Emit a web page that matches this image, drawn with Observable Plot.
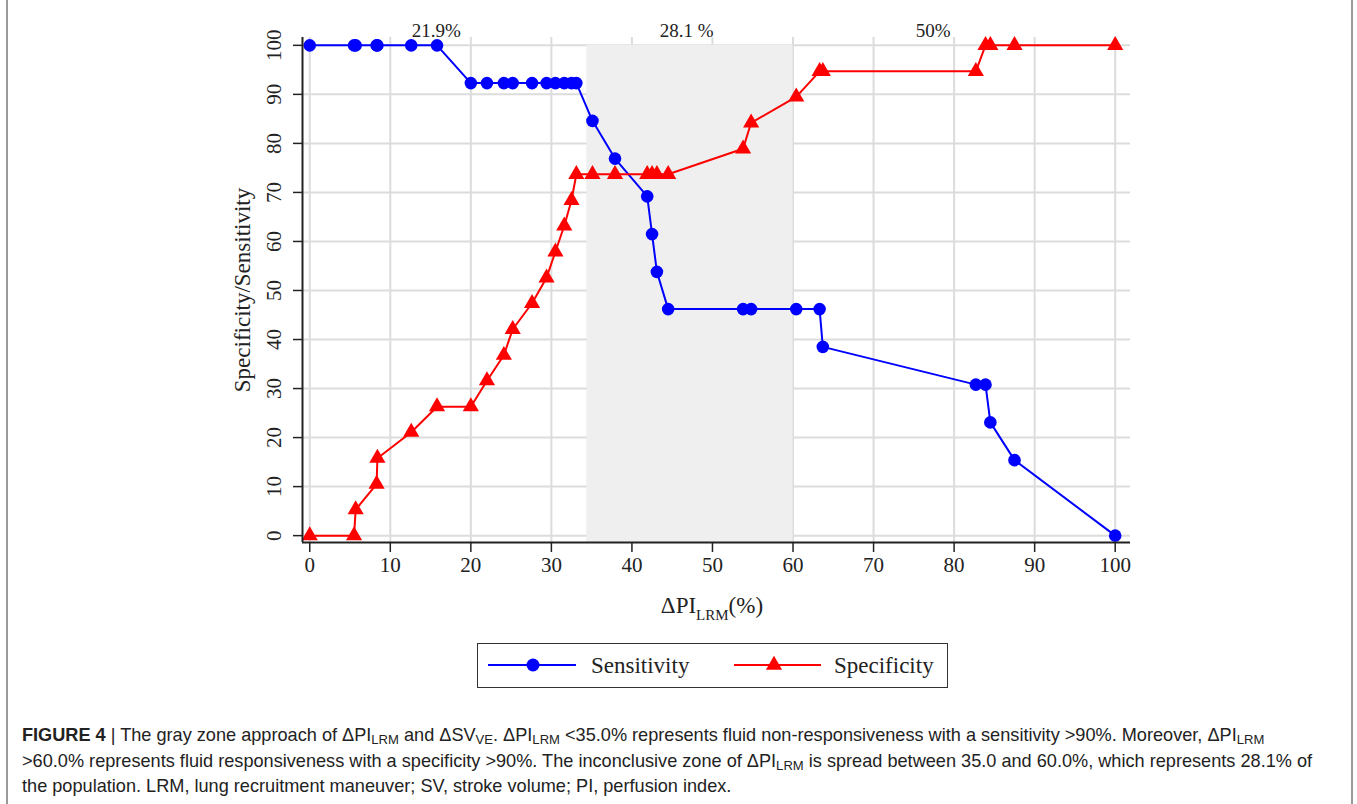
<!DOCTYPE html>
<html><head><meta charset="utf-8">
<script src="https://cdn.jsdelivr.net/npm/d3@7"></script>
<script src="https://cdn.jsdelivr.net/npm/@observablehq/plot@0.6"></script>
<style>
body{margin:0;background:#fff;}
#wrap{position:relative;width:1357px;height:804px;overflow:hidden;background:#fff;}
#frame{position:absolute;left:6px;top:-4px;width:1343px;height:900px;border-left:2px solid #9a9a9a;border-right:2px solid #9a9a9a;pointer-events:none;}
#chart{position:absolute;left:0;top:0;}
#legend{position:absolute;left:477px;top:643px;width:471px;height:45px;border:1.5px solid #333;box-sizing:border-box;background:#fff;}
#legend svg{display:block;font-family:"Liberation Serif",serif;}
#caption{position:absolute;left:22px;top:722px;font-family:"Liberation Sans Narrow","Liberation Sans",sans-serif;font-size:19px;line-height:25.5px;color:#222;white-space:nowrap;transform:scaleX(0.955);transform-origin:0 0;}
#caption b{font-weight:bold;}
.sb{font-size:0.72em;vertical-align:-0.25em;line-height:0;}
</style></head>
<body>
<div id="wrap">
  <div id="chart"></div>
  <div id="legend"></div>
  <div id="caption">
    <b>FIGURE 4</b> | The gray zone approach of ΔPI<span class="sb">LRM</span> and ΔSV<span class="sb">VE</span>. ΔPI<span class="sb">LRM</span> &lt;35.0% represents fluid non-responsiveness with a sensitivity &gt;90%. Moreover, ΔPI<span class="sb">LRM</span><br>
    &gt;60.0% represents fluid responsiveness with a specificity &gt;90%. The inconclusive zone of ΔPI<span class="sb">LRM</span> is spread between 35.0 and 60.0%, which represents 28.1% of<br>
    the population. LRM, lung recruitment maneuver; SV, stroke volume; PI, perfusion index.
  </div>
  <div id="frame"></div>
</div>
<script>
// ---- data ----
const cutoffs = [0, 5.5, 5.7, 8.3, 8.4, 12.6, 15.8, 20.0, 22.0, 24.1, 25.2, 27.6, 29.4, 30.5, 31.6, 32.5, 33.1, 35.1, 37.9, 41.9, 42.5, 43.1, 44.5, 53.8, 54.8, 60.4, 63.3, 63.7, 82.7, 83.9, 84.5, 87.5, 100];
const sensitivity = [100, 100, 100, 100, 100, 100, 100, 92.3, 92.3, 92.3, 92.3, 92.3, 92.3, 92.3, 92.3, 92.3, 92.3, 84.6, 76.9, 69.2, 61.5, 53.8, 46.2, 46.2, 46.2, 46.2, 46.2, 38.5, 30.8, 30.8, 23.1, 15.4, 0];
const specificity = [0, 0, 5.3, 10.5, 15.8, 21.1, 26.3, 26.3, 31.6, 36.8, 42.1, 47.4, 52.6, 57.9, 63.2, 68.4, 73.7, 73.7, 73.7, 73.7, 73.7, 73.7, 73.7, 78.9, 84.2, 89.5, 94.7, 94.7, 94.7, 100, 100, 100, 100];
const grayZone = [34.4, 60];
const zoneLabels = ["21.9%", "28.1 %", "50%"];
const zoneLabelX = [15.7, 46.8, 77.4];
const xTicks = [0, 10, 20, 30, 40, 50, 60, 70, 80, 90, 100];
const yTicks = [0, 10, 20, 30, 40, 50, 60, 70, 80, 90, 100];
const seriesNames = ["Sensitivity", "Specificity"];
const seriesColors = ["#0000ff", "#ff0000"];

// ---- table ----
const rows = cutoffs.map((x, i) => ({x, sens: sensitivity[i], spec: specificity[i]}));
const labelsData = zoneLabels.map((t, i) => ({t, x: zoneLabelX[i]}));

const W = 1357, H = 640;
const xDomain = [-0.9, 101.9], yDomain = [-1.4, 101.6];
const plot = Plot.plot({
  width: W, height: H,
  marginLeft: 302, marginRight: 227, marginTop: 37, marginBottom: H - 542,
  x: {domain: xDomain},
  y: {domain: yDomain},
  style: {fontFamily: "Liberation Serif, serif", fontSize: "21px", color: "#222", background: "transparent", overflow: "visible"},
  marks: [
    Plot.gridX(xTicks, {stroke: "#dcdcdc", strokeOpacity: 1, strokeWidth: 2}),
    Plot.gridY(yTicks, {stroke: "#dcdcdc", strokeOpacity: 1, strokeWidth: 2}),
    Plot.rect([grayZone], {x1: d => d[0], x2: d => d[1], y1: yDomain[0], y2: 100, fill: "#efefef"}),
    Plot.line(rows, {x: "x", y: "sens", stroke: seriesColors[0], strokeWidth: 2}),
    Plot.line(rows, {x: "x", y: "spec", stroke: seriesColors[1], strokeWidth: 2}),
    Plot.dot(rows, {x: "x", y: "sens", r: 6.3, fill: seriesColors[0], symbol: "circle"}),
    Plot.dot(rows, {x: "x", y: "spec", r: 6, fill: seriesColors[1], symbol: "triangle"}),
    Plot.ruleX([xDomain[0]], {stroke: "#222", strokeWidth: 2}),
    Plot.ruleY([yDomain[0]], {stroke: "#222", strokeWidth: 2}),
    Plot.axisX(xTicks, {tickSize: 10, tickPadding: 5, fontSize: 21, label: null, strokeWidth: 1.5}),
    Plot.axisY(yTicks, {tickSize: 9, tickFormat: () => "", label: null, strokeWidth: 1.5}),
    Plot.text(yTicks, {x: () => xDomain[0], y: d => d, text: d => String(d), rotate: -90, dx: -28, fontSize: 21, textAnchor: "middle", lineAnchor: "middle"}),
    Plot.text(["Specificity/Sensitivity"], {frameAnchor: "left", rotate: -90, dx: -60, fontSize: 23, textAnchor: "middle", lineAnchor: "middle"}),
    Plot.text(labelsData, {x: "x", y: () => 102.9, text: "t", fontSize: 19, lineAnchor: "middle"})
  ]
});
document.getElementById("chart").appendChild(plot);

// x-axis title with subscript
const sx = plot.scale("x");
const svg = d3.select(plot);
const title = svg.append("text")
  .attr("x", sx.apply(50))
  .attr("y", 542 + 71)
  .attr("text-anchor", "middle")
  .attr("font-family", "Liberation Serif, serif")
  .attr("font-size", 23)
  .attr("fill", "#222");
title.append("tspan").text("ΔPI");
title.append("tspan").attr("font-size", 15).attr("dy", 7).text("LRM");
title.append("tspan").attr("dy", -7).text("(%)");

// legend
const lg = d3.select("#legend").append("svg").attr("width", 468).attr("height", 42);
const items = [
  {name: seriesNames[0], color: seriesColors[0], sym: d3.symbolCircle, x0: 10, x1: 98, mx: 55, tx: 113, size: Math.PI * 6.5 * 6.5},
  {name: seriesNames[1], color: seriesColors[1], sym: d3.symbolTriangle, x0: 256, x1: 343, mx: 296, tx: 356, size: Math.PI * 6 * 6}
];
items.forEach(it => {
  lg.append("line").attr("x1", it.x0).attr("x2", it.x1).attr("y1", 21).attr("y2", 21).attr("stroke", it.color).attr("stroke-width", 2);
  lg.append("path").attr("d", d3.symbol(it.sym, it.size)()).attr("transform", `translate(${it.mx},21)`).attr("fill", it.color);
  lg.append("text").attr("x", it.tx).attr("y", 29).attr("font-size", 23).attr("fill", "#222").text(it.name);
});
</script>
</body></html>
